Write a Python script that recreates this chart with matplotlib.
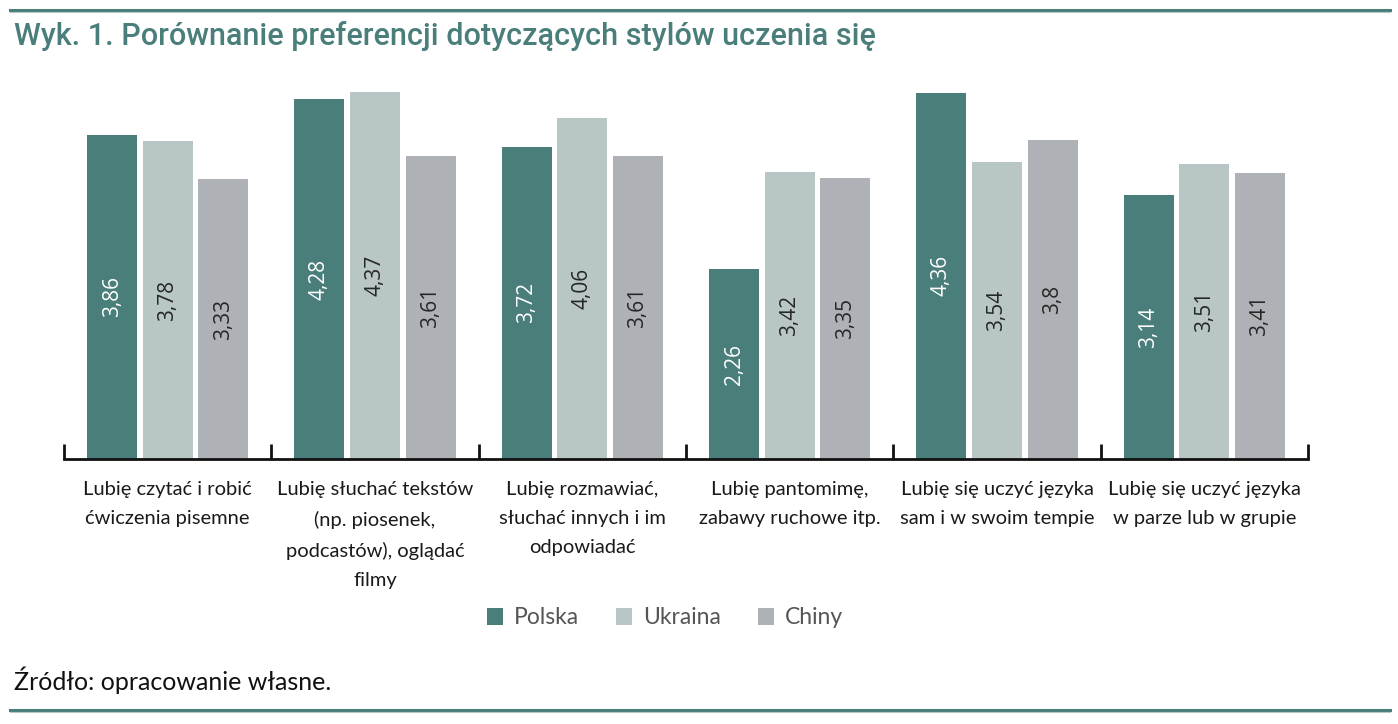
import matplotlib
matplotlib.use("Agg")
import matplotlib.pyplot as plt
from matplotlib.lines import Line2D
from matplotlib.patches import Patch
import numpy as np

categories = [
    "Lubię czytać i robić\nćwiczenia pisemne",
    "Lubię słuchać tekstów\n(np. piosenek,\npodcastów), oglądać\nfilmy",
    "Lubię rozmawiać,\nsłuchać innych i im\nodpowiadać",
    "Lubię pantomimę,\nzabawy ruchowe itp.",
    "Lubię się uczyć języka\nsam i w swoim tempie",
    "Lubię się uczyć języka\nw parze lub w grupie",
]
series_names = ["Polska", "Ukraina", "Chiny"]
polska = [3.86, 4.28, 3.72, 2.26, 4.36, 3.14]
ukraina = [3.78, 4.37, 4.06, 3.42, 3.54, 3.51]
chiny = [3.33, 3.61, 3.61, 3.35, 3.80, 3.41]
colors = ["#4a7e7a", "#b8c6c6", "#aeb2b6"]
label_colors = ["white", "#262626", "#262626"]

plt.rcParams['font.family'] = ['Lato', 'DejaVu Sans']

W, H = 1398, 724
fig = plt.figure(figsize=(W / 100, H / 100), dpi=100)
ax = fig.add_axes([64 / W, 1 - 459 / H, (1308 - 64) / W, (459 - 80) / H])

x = np.arange(len(categories))
bw = 0.241
off = 0.268
for i, (vals, col, lc) in enumerate(zip([polska, ukraina, chiny], colors, label_colors)):
    xs = x + (i - 1) * off
    ax.bar(xs, vals, width=bw, color=col, label=series_names[i], zorder=2)
    for xi, v in zip(xs, vals):
        s = f"{v:.2f}".rstrip("0").rstrip(".").replace(".", ",")
        ax.text(xi, v / 2, s, rotation=90, ha="center", va="center",
                color=lc, fontsize=15, family=["Open Sans", "DejaVu Sans"])

ax.set_xlim(-0.5, len(categories) - 0.5)
ax.set_ylim(0, 379 / 84.0)
for s in ["top", "right", "left"]:
    ax.spines[s].set_visible(False)
ax.spines["bottom"].set_linewidth(2)
ax.spines["bottom"].set_color("#111111")
ax.set_yticks([])
ax.set_xticks(np.arange(-0.5, len(categories), 1.0))
ax.set_xticklabels([])
ax.tick_params(axis="x", direction="in", length=11, width=2, color="#111111")

for xi, c in zip(x, categories):
    ax.text(xi, -0.058, c, ha="center", va="top", fontsize=14.5,
            color="#1a1a1a", linespacing=1.85, transform=ax.get_xaxis_transform())

handles = [Patch(facecolor=c, edgecolor="none") for c in colors]
fig.legend(handles, series_names, loc="center", bbox_to_anchor=(665 / W, 1 - 618 / H),
           ncol=3, frameon=False, fontsize=16.5, handlelength=0.7, handleheight=0.7,
           handletextpad=0.5, columnspacing=1.6, labelcolor="#555555")

fig.text(14 / W, 1 - 36 / H, "Wyk. 1. Porównanie preferencji dotyczących stylów uczenia się",
         ha="left", va="center", fontsize=22, color="#4a7e7a", fontweight="medium",
         family=["Roboto", "DejaVu Sans"])
fig.text(14 / W, 1 - 680 / H, "Źródło: opracowanie własne.", ha="left", va="center",
         fontsize=18, color="#111111")

for y in [10, 710]:
    fig.add_artist(Line2D([10 / W, 1390 / W], [1 - y / H, 1 - y / H], color="#4a7e7a", lw=2.2))
    fig.add_artist(Line2D([10 / W, 1390 / W], [1 - (y + 2) / H, 1 - (y + 2) / H], color="#b8c6c6", lw=0.8))

fig.savefig("out.png", dpi=100)
